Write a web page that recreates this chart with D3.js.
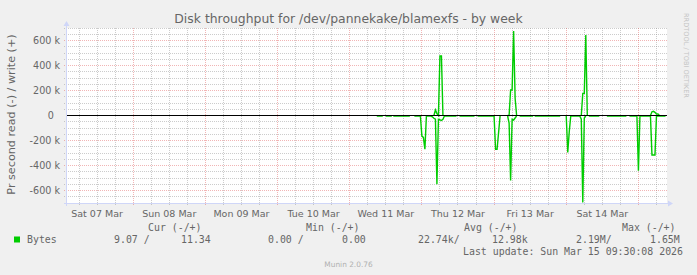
<!DOCTYPE html>
<html><head><meta charset="utf-8">
<script src="https://cdn.jsdelivr.net/npm/d3@7"></script>
<style>
html,body{margin:0;padding:0;background:#F0F0F0;}
svg{display:block;}
text{white-space:pre;}
</style>
</head><body>
<svg id="chart" width="697" height="275"></svg>
<script>
// ---------------- data ----------------
const title = "Disk throughput for /dev/pannekake/blamexfs - by week";
const yLabel = "Pr second read (-) / write (+)";
const yTicks = [-600000, -400000, -200000, 0, 200000, 400000, 600000];
const yTickLabels = ["-600 k", "-400 k", "-200 k", "0  ", "200 k", "400 k", "600 k"];
const dayLabels = ["Sat 07 Mar", "Sun 08 Mar", "Mon 09 Mar", "Tue 10 Mar", "Wed 11 Mar", "Thu 12 Mar", "Fri 13 Mar", "Sat 14 Mar"];
const dayNoons = ["2026-03-07T12:00", "2026-03-08T12:00", "2026-03-09T12:00", "2026-03-10T12:00", "2026-03-11T12:00", "2026-03-12T12:00", "2026-03-13T12:00", "2026-03-14T12:00"];
const startTime = "2026-03-07T02:00";
const endTime = "2026-03-15T09:30";
const baseTime = "2026-03-12T00:00"; // hours below are offsets from this

// read (drawn negative), bytes/s ; null = no data
const readHours = [-15, -13, -12.5, -12, -10, -9.75, -9.5, -4, -3, -2.5, -0.5, 0, 0.5, 1, 1.5, 2, 3, 3.5, 4, 4.5, 5, 5.5, 6, 6.5, 7, 7.5, 11.5, 12,
  12.5, 17.5, 18, 18.5, 23.5, 24, 24.5, 25, 26, 27, 28.5, 29, 29.5, 30, 30.5, 31, 31.5, 32, 32.5, 37, 37.25, 37.5, 46, 47,
  48, 48.5, 49, 49.5, 52.5, 53, 53.5, 54, 54.5, 55, 55.5, 59, 60, 61.5, 68, 68.5, 69, 71.5, 72, 72.5, 76, 76.5, 77.5, 78, 81];
const readValues = [4000, 4000, null, 4000, 4000, null, 4000, 4000, null, 4000, 4000, 165000, 175000, 270000, 4000, 4000, 4000, 10000, 22000, 30000, 550000, 30000, 35000, 40000, 30000, 4000, 4000, null,
  4000, 4000, null, 4000, 4000, 4000, 270000, 270000, 4000, null, 4000, 60000, 520000, 30000, 36000, 20000, 4000, null, 4000, 4000, null, 4000, 4000, null,
  4000, 295000, 130000, 4000, 4000, 30000, 695000, 20000, 4000, null, 4000, 4000, null, 4000, 4000, null, 4000, 4000, 441000, 4000, 4000, 316000, 316000, 4000, 4000];

// write (drawn positive)
const writeHours = [4, 4.5, 5, 5.5, 6, 6.5, 7, 8, 28.5, 29, 29.5, 30, 30.5, 31, 31.5, 32, 53, 53.5, 54, 54.5, 55, 56, 76, 76.5, 77, 77.5, 78, 78.5, 79];
const writeValues = [0, 44000, 15000, 0, 476000, 476000, 0, null, 0, 0, 204000, 204000, 676000, 138000, 0, null, 0, 177000, 177000, 644000, 0, null, 0, 30000, 33000, 25000, 12000, 12000, 0];

const legendHeaders = ["Cur (-/+)", "Min (-/+)", "Avg (-/+)", "Max (-/+)"];
const seriesName = "Bytes";
const legendValues = ["9.07 /", "11.34", "0.00 /", "0.00", "22.74k/", "12.98k", "2.19M/", "1.65M"];
const lastUpdate = "Last update: Sun Mar 15 09:30:08 2026";
const watermark = "Munin 2.0.76";
const sideText = "RRDTOOL / TOBI OETIKER";

// ---------------- drawing ----------------
const parse = d3.timeParse("%Y-%m-%dT%H:%M");
const t0 = parse(startTime), t1 = parse(endTime), tb = parse(baseTime);
const X0 = 67, X1 = 667, Y0 = 203, Y1 = 28;
const x = d3.scaleTime().domain([t0, t1]).range([X0, X1]);
const y = d3.scaleLinear().domain([-700000, 700000]).range([Y0, Y1]);
const crisp = v => Math.floor(v) + 0.5;
const hourToDate = h => new Date(tb.getTime() + h * 3600000);

const svg = d3.select("#chart");
svg.append("rect").attr("width", 697).attr("height", 275).attr("fill", "#F0F0F0");
svg.append("rect").attr("x", X0).attr("y", Y1).attr("width", X1 - X0).attr("height", Y0 - Y1).attr("fill", "#FFFFFF");

const gridMinor = "rgba(143,143,143,0.45)";
const gridMajor = "rgba(222,79,79,0.42)";

// horizontal grid
const minorY = d3.range(-700000, 700001, 50000).filter(v => v % 200000 !== 0);
svg.append("g").selectAll("line").data(minorY).join("line")
  .attr("x1", X0 - 3).attr("x2", X1).attr("y1", d => crisp(y(d))).attr("y2", d => crisp(y(d)))
  .attr("stroke", gridMinor).attr("stroke-width", 1).attr("stroke-dasharray", "1,1");
// vertical grid
const minorX = d3.timeHour.every(6).range(t0, t1).filter(d => d.getHours() !== 0);
svg.append("g").selectAll("line").data(minorX).join("line")
  .attr("x1", d => crisp(x(d))).attr("x2", d => crisp(x(d))).attr("y1", Y1).attr("y2", Y0 + 3)
  .attr("stroke", gridMinor).attr("stroke-width", 1).attr("stroke-dasharray", "1,1");
const majorY = yTicks.filter(v => v !== 0);
svg.append("g").selectAll("line").data(majorY).join("line")
  .attr("x1", X0 - 3).attr("x2", X1).attr("y1", d => crisp(y(d))).attr("y2", d => crisp(y(d)))
  .attr("stroke", gridMajor).attr("stroke-width", 1).attr("stroke-dasharray", "1,1");
const majorX = d3.timeDay.range(t0, t1);
svg.append("g").selectAll("line").data(majorX).join("line")
  .attr("x1", d => crisp(x(d))).attr("x2", d => crisp(x(d))).attr("y1", Y1).attr("y2", Y0 + 3)
  .attr("stroke", gridMajor).attr("stroke-width", 1).attr("stroke-dasharray", "1,1");

// data lines
const readData = readHours.map((h, i) => ({t: hourToDate(h), v: readValues[i] === null ? null : -readValues[i]}));
const writeData = writeHours.map((h, i) => ({t: hourToDate(h), v: writeValues[i]}));
const line = d3.line().defined(d => d.v !== null).x(d => x(d.t)).y(d => y(d.v));
svg.append("clipPath").attr("id", "clip").append("rect").attr("x", X0).attr("y", Y1).attr("width", X1 - X0).attr("height", Y0 - Y1);
const g = svg.append("g").attr("clip-path", "url(#clip)");
g.append("path").datum(readData).attr("d", line).attr("fill", "none").attr("stroke", "#00CC00").attr("stroke-width", 1.4).attr("stroke-linejoin", "miter");
g.append("path").datum(writeData).attr("d", line).attr("fill", "none").attr("stroke", "#00CC00").attr("stroke-width", 1.4).attr("stroke-linejoin", "miter");

// zero line
svg.append("line").attr("x1", X0).attr("x2", X1).attr("y1", crisp(y(0))).attr("y2", crisp(y(0)))
  .attr("stroke", "#000000").attr("stroke-width", 1);

// axes
const axisCol = "#CFD6F8";
svg.append("line").attr("x1", X0 - 0.5).attr("x2", X0 - 0.5).attr("y1", Y0 + 3).attr("y2", Y1 - 4).attr("stroke", axisCol);
svg.append("path").attr("d", `M${X0 - 3.5},${Y1 - 2}L${X0 + 2.5},${Y1 - 2}L${X0 - 0.5},${Y1 - 7}Z`).attr("fill", axisCol);
svg.append("line").attr("x1", X0 - 3).attr("x2", X1 + 3).attr("y1", Y0 + 0.5).attr("y2", Y0 + 0.5).attr("stroke", axisCol);
svg.append("path").attr("d", `M${X1 + 1},${Y0 - 2.5}L${X1 + 1},${Y0 + 3.5}L${X1 + 6},${Y0 + 0.5}Z`).attr("fill", axisCol);

const font = "'DejaVu Sans', sans-serif";
const mono = "'DejaVu Sans Mono', monospace";
const fontCol = "#666666";

// y tick labels
svg.append("g").selectAll("text").data(yTicks).join("text")
  .attr("x", 60).attr("y", d => y(d)).attr("dy", "0.36em").attr("text-anchor", "end")
  .attr("font-family", font).attr("font-size", 9.6).attr("fill", fontCol)
  .text((d, i) => yTickLabels[i]);

// x labels
svg.append("g").selectAll("text").data(dayNoons).join("text")
  .attr("x", d => x(parse(d))).attr("y", 216.5).attr("text-anchor", "middle")
  .attr("font-family", font).attr("font-size", 9.5).attr("fill", fontCol)
  .text((d, i) => dayLabels[i]);

// title
svg.append("text").attr("x", 348.5).attr("y", 23).attr("text-anchor", "middle")
  .attr("font-family", font).attr("font-size", 12.4).attr("fill", fontCol).text(title);

// y axis label
svg.append("text").attr("transform", "translate(15,114.5) rotate(-90)").attr("text-anchor", "middle")
  .attr("font-family", font).attr("font-size", 11.2).attr("fill", fontCol).text(yLabel);

// side text
svg.append("text").attr("transform", "translate(684,13) rotate(90)").attr("text-anchor", "start")
  .attr("font-family", font).attr("font-size", 6.6).attr("fill", "#c4c4c4").text(sideText);

// legend
const headerX = [148, 306, 464, 622];
svg.append("g").selectAll("text").data(legendHeaders).join("text")
  .attr("x", (d, i) => headerX[i]).attr("y", 230.5)
  .attr("font-family", mono).attr("font-size", 9.9).attr("fill", fontCol).text(d => d);
svg.append("rect").attr("x", 14).attr("y", 236.5).attr("width", 6).attr("height", 6).attr("fill", "#00CC00");
svg.append("text").attr("x", 27).attr("y", 243).attr("font-family", mono).attr("font-size", 9.9).attr("fill", fontCol).text(seriesName);
const valueX = [114, 181, 268, 342, 418, 492, 576, 650];
svg.append("g").selectAll("text").data(legendValues).join("text")
  .attr("x", (d, i) => valueX[i]).attr("y", 243)
  .attr("font-family", mono).attr("font-size", 9.9).attr("fill", fontCol).text(d => d);
svg.append("text").attr("x", 683).attr("y", 255).attr("text-anchor", "end")
  .attr("font-family", mono).attr("font-size", 9.9).attr("fill", fontCol).text(lastUpdate);
svg.append("text").attr("x", 348.5).attr("y", 266.5).attr("text-anchor", "middle")
  .attr("font-family", font).attr("font-size", 7.4).attr("fill", "#b0b0b0").text(watermark);
</script>
</body></html>
